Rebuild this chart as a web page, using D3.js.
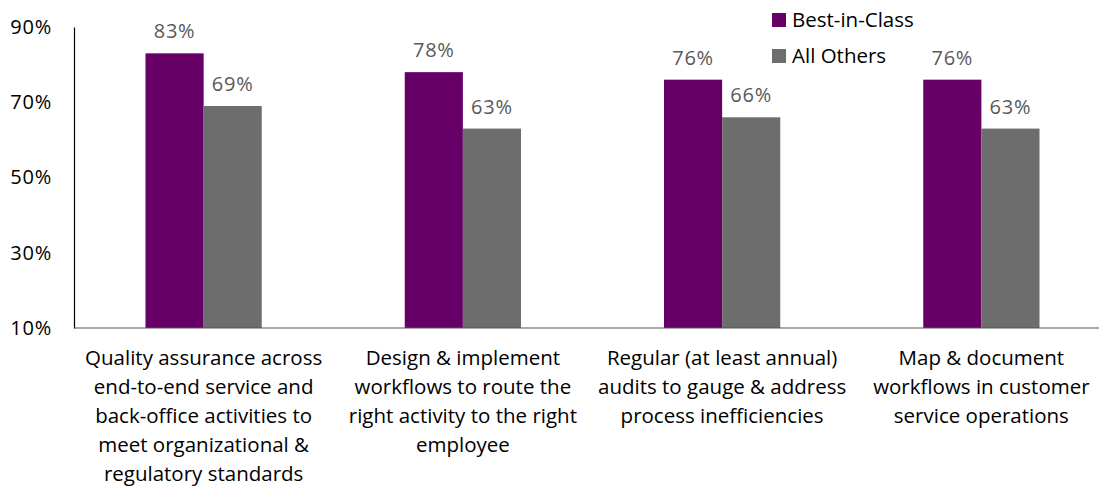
<!DOCTYPE html>
<html>
<head>
<meta charset="utf-8">
<script src="https://cdn.jsdelivr.net/npm/d3@7"></script>
<style>
  body { margin: 0; background: #fff; }
  text { font-family: "Open Sans", "Liberation Sans", sans-serif; }
</style>
</head>
<body>
<div id="chart"></div>
<script>
// chart data
var categories = [
    ["Quality assurance across", "end-to-end service and", "back-office activities to", "meet organizational &", "regulatory standards"],
    ["Design & implement", "workflows to route the", "right activity to the right", "employee"],
    ["Regular (at least annual)", "audits to gauge & address", "process inefficiencies"],
    ["Map & document", "workflows in customer", "service operations"]
];
var seriesNames = ["Best-in-Class", "All Others"];
var bestInClass = [83, 78, 76, 76];
var allOthers = [69, 63, 66, 63];
var yTicks = [10, 30, 50, 70, 90];

var colors = ["#660066", "#6d6d6d"];

var w = 1099,
    h = 494;

var svg = d3.select("#chart").append("svg")
    .attr("width", w)
    .attr("height", h);

var x = d3.scaleBand()
    .domain(d3.range(categories.length))
    .range([74, 1111]);

var x1 = d3.scaleBand()
    .domain([0, 1])
    .range([0, x.bandwidth()])
    .paddingInner(0)
    .paddingOuter(1.23);

var y = d3.scaleLinear()
    .domain([10, 90])
    .range([328, 27]);

// y axis
var yAxis = d3.axisLeft(y)
    .tickValues(yTicks)
    .tickSize(0)
    .tickPadding(22)
    .tickFormat(function(d) { return d + "%"; });

var gy = svg.append("g")
    .attr("transform", "translate(74,0)")
    .call(yAxis);
gy.select(".domain").attr("stroke", "#000").attr("stroke-width", 1.2);
gy.selectAll("text")
    .style("font-family", "'Open Sans', sans-serif")
    .style("font-size", "20px")
    .style("letter-spacing", "0.8px")
    .attr("fill", "#000");

// bars
var data = categories.map(function(c, i) {
    return [bestInClass[i], allOthers[i]];
});

var groups = svg.append("g")
    .selectAll("g")
    .data(data)
    .enter()
    .append("g")
    .attr("transform", function(d, i) { return "translate(" + x(i) + ",0)"; });

groups.selectAll("rect")
    .data(function(d) { return d; })
    .enter()
    .append("rect")
    .attr("x", function(d, j) { return x1(j); })
    .attr("width", x1.bandwidth())
    .attr("y", function(d) { return y(d); })
    .attr("height", function(d) { return y(10) - y(d); })
    .attr("fill", function(d, j) { return colors[j]; });

groups.selectAll("text.val")
    .data(function(d) { return d; })
    .enter()
    .append("text")
    .attr("class", "val")
    .attr("x", function(d, j) { return x1(j) + x1.bandwidth() / 2; })
    .attr("y", function(d) { return y(d) - 15; })
    .attr("text-anchor", "middle")
    .style("font-size", "20px")
    .style("letter-spacing", "0.8px")
    .attr("fill", "#595959")
    .text(function(d) { return d + "%"; });

// x baseline
svg.append("line")
    .attr("x1", 74)
    .attr("x2", w)
    .attr("y1", y(10))
    .attr("y2", y(10))
    .attr("stroke", "#555")
    .attr("stroke-width", 1.2);

// category labels
svg.append("g")
    .selectAll("text")
    .data(categories)
    .enter()
    .append("text")
    .attr("text-anchor", "middle")
    .attr("x", function(d, i) { return x(i) + x.bandwidth() / 2; })
    .attr("y", 364)
    .style("font-size", "20.5px")
    .attr("fill", "#000")
    .each(function(lines) {
        var t = d3.select(this);
        lines.forEach(function(l, k) {
            t.append("tspan")
                .attr("x", t.attr("x"))
                .attr("y", 365 + k * 29)
                .text(l);
        });
    });

// legend
var legend = svg.append("g")
    .selectAll("g")
    .data(seriesNames)
    .enter()
    .append("g")
    .attr("transform", function(d, i) { return "translate(772," + (13 + i * 36) + ")"; });

legend.append("rect")
    .attr("width", 14)
    .attr("height", 14)
    .attr("fill", function(d, i) { return colors[i]; });

legend.append("text")
    .attr("x", 20)
    .attr("y", 14)
    .style("font-size", "20.5px")
    .attr("fill", "#000")
    .text(function(d) { return d; });
</script>
</body>
</html>
